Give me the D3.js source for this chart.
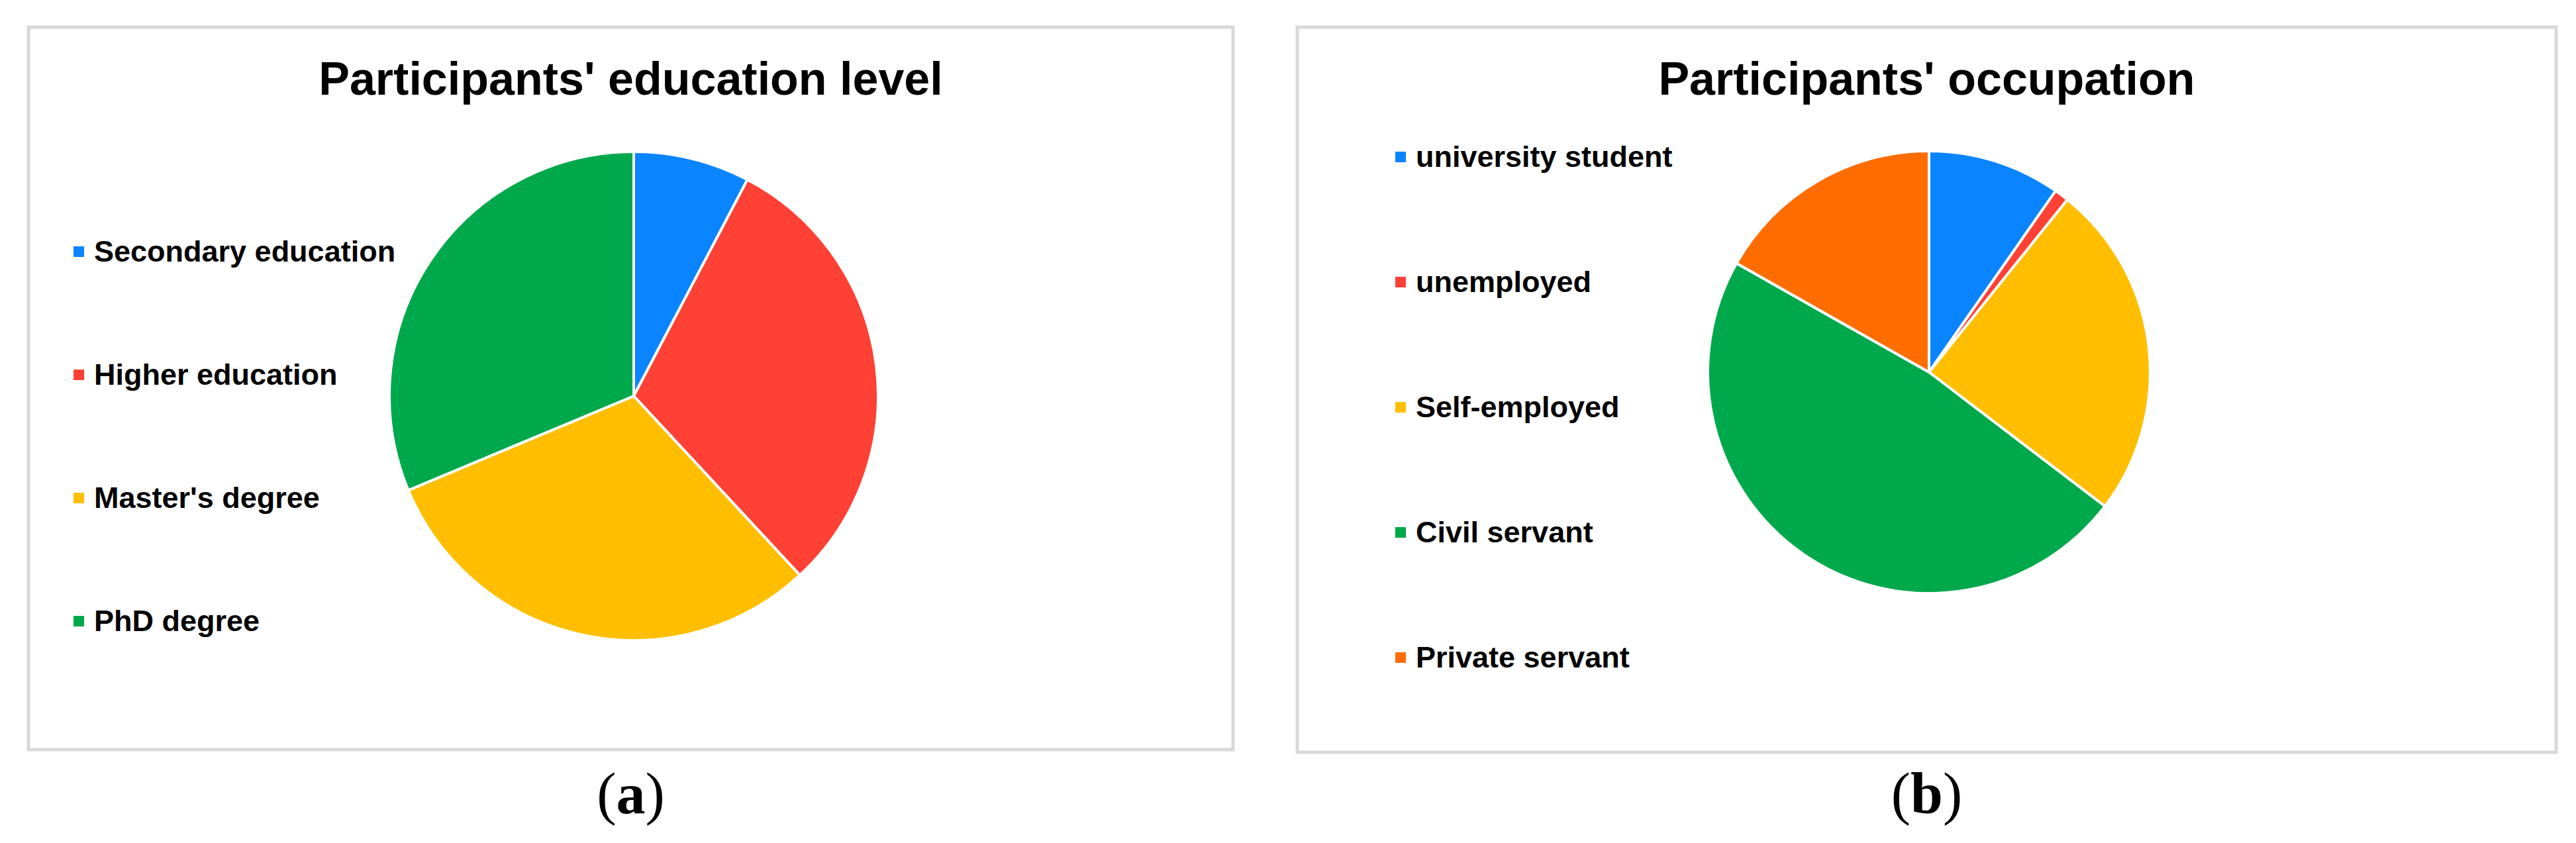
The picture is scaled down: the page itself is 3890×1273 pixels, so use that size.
<!DOCTYPE html>
<html>
<head>
<meta charset="utf-8">
<script src="https://cdn.jsdelivr.net/npm/d3@7"></script>
<style>
  body { margin: 0; background: #fff; }
  svg { display: block; }
</style>
</head>
<body>
<svg id="chart"></svg>
<script>
// education level shares (%)
const educationLabels = ["Secondary education", "Higher education", "Master's degree", "PhD degree"];
const educationValues = [7.7, 30.4, 30.6, 31.3];
const educationColors = ["#0a84ff", "#ff4035", "#ffbf00", "#00a84c"];

// occupation shares (%)
const occupationLabels = ["university student", "unemployed", "Self-employed", "Civil servant", "Private servant"];
const occupationValues = [9.7, 1.05, 24.6, 47.8, 16.8];
const occupationColors = ["#0a84ff", "#ff4035", "#ffbf00", "#00a84c", "#ff6d00"];

const width = 3890, height = 1273;
const svg = d3.select("#chart").attr("width", width).attr("height", height);
svg.append("rect").attr("width", width).attr("height", height).attr("fill", "#fff");

// one panel: frame, title, pie, legend, caption
function piePanel({ box, title, labels, values, colors, center, radius, legend, caption }) {
  const g = svg.append("g");

  // grey frame
  g.append("rect")
    .attr("x", box.x0).attr("y", box.y0)
    .attr("width", box.x1 - box.x0).attr("height", box.y1 - box.y0)
    .attr("fill", "#fff")
    .attr("stroke", "#d9d9d9")
    .attr("stroke-width", 5);

  // title
  g.append("text")
    .attr("x", (box.x0 + box.x1) / 2)
    .attr("y", 143)
    .attr("text-anchor", "middle")
    .style("font", "bold 70px 'Liberation Sans', Arial, sans-serif")
    .attr("fill", "#000")
    .text(title);

  const color = d3.scaleOrdinal().domain(labels).range(colors);
  const pie = d3.pie().sort(null).value((d, i) => values[i]);
  const arc = d3.arc().innerRadius(0).outerRadius(radius);

  g.append("g")
    .attr("transform", `translate(${center[0]},${center[1]})`)
    .selectAll("path")
    .data(pie(labels))
    .join("path")
    .attr("d", arc)
    .attr("fill", d => color(d.data))
    .attr("stroke", "#fff")
    .attr("stroke-width", 4)
    .attr("stroke-linejoin", "round");

  // legend on the left
  const items = g.append("g")
    .selectAll("g")
    .data(labels)
    .join("g")
    .attr("transform", (d, i) => `translate(${legend.x},${legend.y + i * legend.step})`);

  items.append("rect")
    .attr("x", 0).attr("y", -8)
    .attr("width", 16).attr("height", 16)
    .attr("fill", d => color(d));

  items.append("text")
    .attr("x", 31).attr("y", 15)
    .style("font", "bold 45px 'Liberation Sans', Arial, sans-serif")
    .attr("fill", "#000")
    .text(d => d);

  // (a) / (b) caption below the frame
  const cap = svg.append("text")
    .attr("x", (box.x0 + box.x1) / 2)
    .attr("y", 1228)
    .attr("text-anchor", "middle")
    .style("font", "88px 'Liberation Serif', 'Times New Roman', serif")
    .attr("fill", "#000");
  cap.append("tspan").text("(");
  cap.append("tspan").attr("font-weight", "bold").text(caption);
  cap.append("tspan").text(")");
}

piePanel({
  box: { x0: 43, y0: 41, x1: 1862, y1: 1132 },
  title: "Participants' education level",
  labels: educationLabels,
  values: educationValues,
  colors: educationColors,
  center: [957, 598],
  radius: 369,
  legend: { x: 111, y: 380, step: 186 },
  caption: "a"
});

piePanel({
  box: { x0: 1959, y0: 41, x1: 3860, y1: 1136 },
  title: "Participants' occupation",
  labels: occupationLabels,
  values: occupationValues,
  colors: occupationColors,
  center: [2913, 562],
  radius: 334,
  legend: { x: 2107, y: 237, step: 189 },
  caption: "b"
});
</script>
</body>
</html>
